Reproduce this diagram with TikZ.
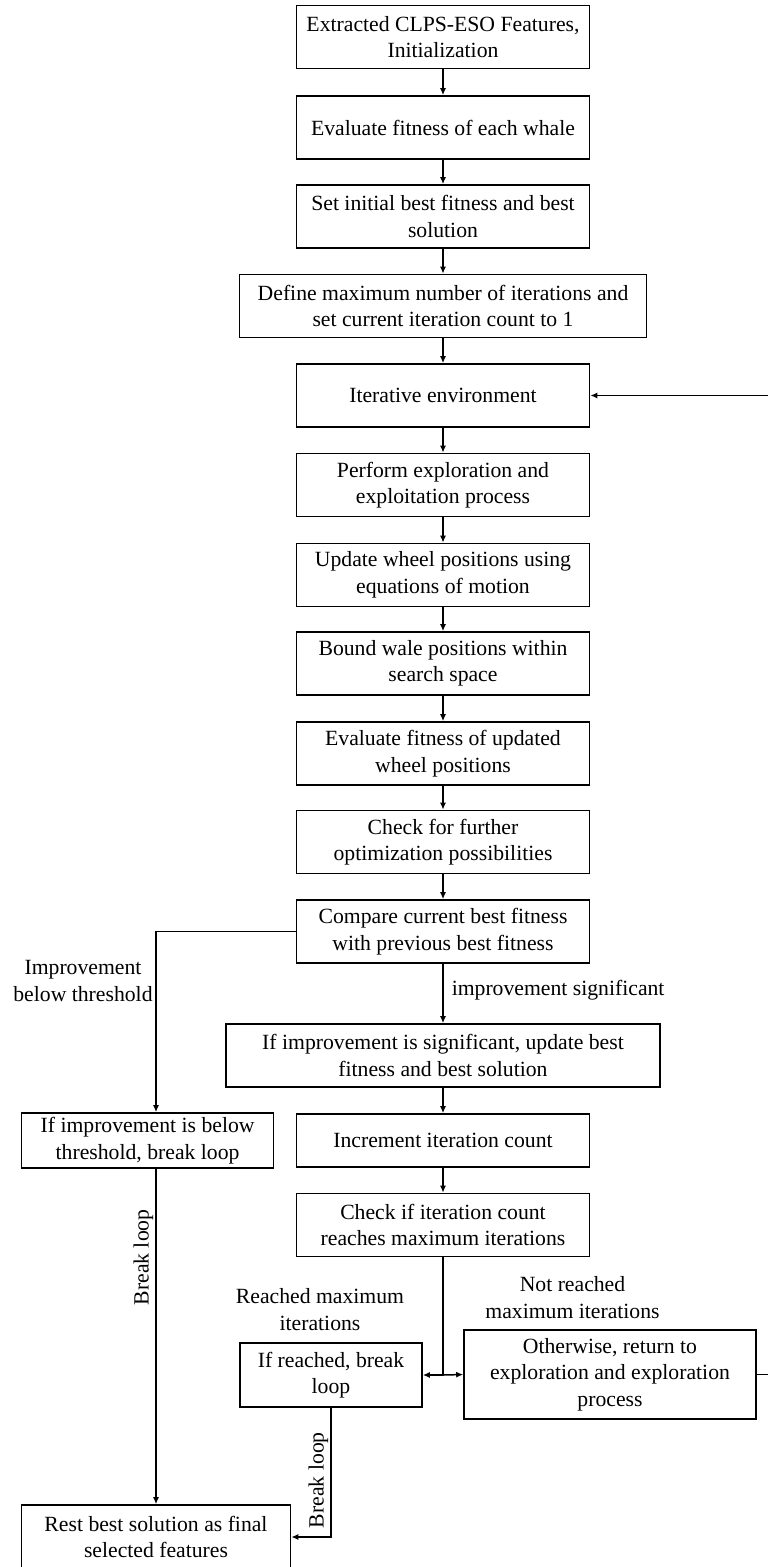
\documentclass[tikz,border=0pt]{standalone}
\usepackage{fontspec}
\setmainfont{Liberation Serif}
\usetikzlibrary{arrows.meta}
\begin{document}
\begin{tikzpicture}[x=1pt,y=-1pt,
  txt/.style={font=\fontsize{21.7}{26.5}\selectfont, align=center, inner sep=2pt},
  box/.style={txt, draw, line width=1.6pt, minimum width=293pt, minimum height=63pt},
  conn/.style={line width=1.5pt},
  arr/.style={conn, -{Latex[length=7pt,width=6pt]}},
  lbl/.style={txt}]
\useasboundingbox (0,0) rectangle (768,1567);
\node[box] (b1) at (443,37) {Extracted CLPS-ESO Features,\\Initialization};
\node[box] (b2) at (443,127.5) {Evaluate fitness of each whale};
\node[box] (b3) at (443,216.5) {Set initial best fitness and best\\solution};
\node[box, minimum width=407pt] (b4) at (443,306) {Define maximum number of iterations and\\set current iteration count to 1};
\node[box] (b5) at (443,395.5) {Iterative environment};
\node[box] (b6) at (443,485) {Perform exploration and\\exploitation process};
\node[box] (b7) at (443,575) {Update wheel positions using\\equations of motion};
\node[box] (b8) at (443,663.5) {Bound wale positions within\\search space};
\node[box] (b9) at (443,753.5) {Evaluate fitness of updated\\wheel positions};
\node[box] (b10) at (443,842) {Check for further\\optimization possibilities};
\node[box] (b11) at (443,931.5) {Compare current best fitness\\with previous best fitness};
\node[box, minimum width=434pt] (b13) at (443,1055.5) {If improvement is significant, update best\\fitness and best solution};
\node[box, minimum height=53pt] (b14) at (443,1140.5) {Increment iteration count};
\node[box, minimum width=252pt, minimum height=55pt] (b12) at (147.6,1140.5) {If improvement is below\\threshold, break loop};
\node[box] (b15) at (443,1225) {Check if iteration count\\reaches maximum iterations};
\node[box, minimum width=182pt, minimum height=64pt] (b16) at (331,1375) {If reached, break\\loop};
\node[box, minimum width=292pt, minimum height=89pt] (b17) at (610,1374.5) {Otherwise, return to\\exploration and exploration\\process};
\node[box, minimum width=269pt, minimum height=64pt] (b18) at (156,1537) {Rest best solution as final\\selected features};

\foreach \a/\b in {b1/b2,b2/b3,b3/b4,b4/b5,b5/b6,b6/b7,b7/b8,b8/b9,b9/b10,b10/b11,b13/b14,b14/b15}
  \draw[arr] (\a.south) -- (\a.south |- \b.north);

\draw[arr] (b11.south) -- (b11.south |- b13.north)
  node[lbl, pos=0.45, right=6pt] {improvement significant};
\draw[arr] (b11.west) -| (b18.north |- b12.north)
  node[lbl] at (83,981) {Improvement\\below threshold};
\draw[arr] (b18.north |- b12.south) -- (b18.north)
  node[lbl, pos=0.264, rotate=90, anchor=south] {Break loop};

\coordinate (j) at (b15.south |- b16.east);
\draw[conn] (b15.south) -- (j);
\draw[arr] (j) -- (b16.east)
  node[lbl] at (320,1309.5) {Reached maximum\\iterations};
\draw[arr] (j) -- (b17.west)
  node[lbl] at (572.5,1297.5) {Not reached\\maximum iterations};
\draw[arr] (b16.south) |- (b18.east)
  node[lbl, pos=0.28, rotate=90, anchor=south] {Break loop};

\coordinate (r) at (768.7,1374.5);
\draw[arr] (b17.east) -- (r) |- (b5.east);
\end{tikzpicture}
\end{document}
